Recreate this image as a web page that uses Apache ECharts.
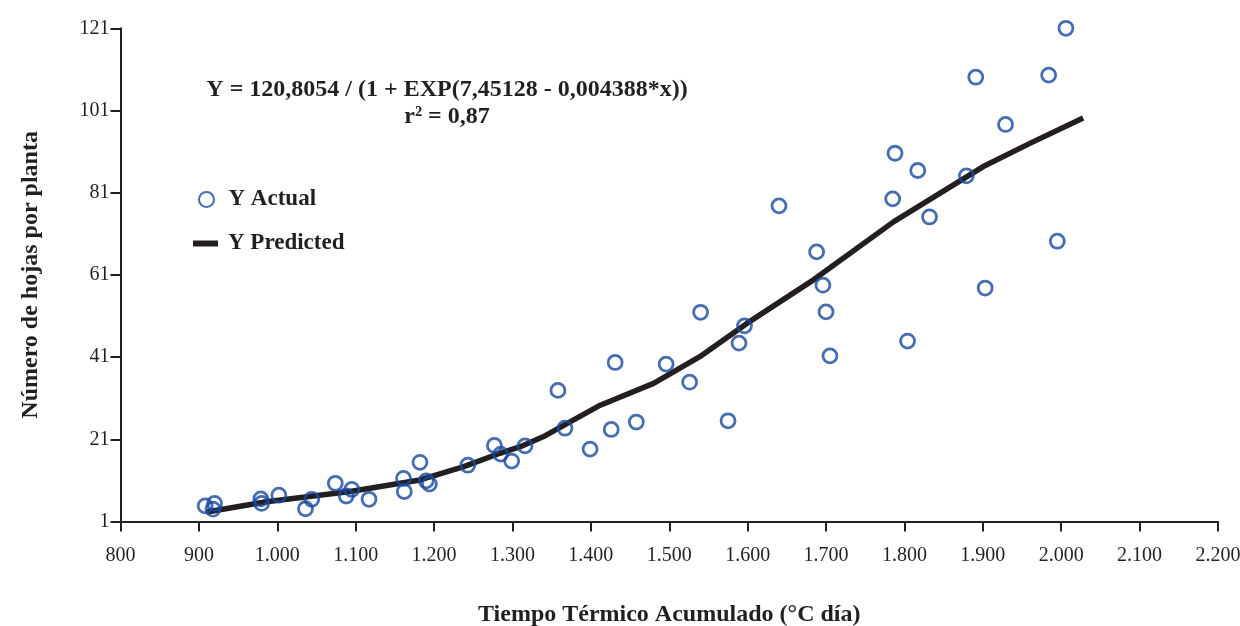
<!DOCTYPE html>
<html>
<head>
<meta charset="utf-8">
<script src="https://cdn.jsdelivr.net/npm/echarts@6/dist/echarts.min.js"></script>
<style>
html,body{margin:0;padding:0;background:#fff;}
#chart{width:1240px;height:626px;}
</style>
</head>
<body>
<div id="chart"></div>
<script>
// Observed data (Tiempo Térmico Acumulado, Número de hojas por planta)
var actualX = [908, 920, 918, 979, 980, 1002, 1036, 1044, 1074, 1088, 1095, 1117,
  1161, 1162, 1182, 1190, 1194, 1243, 1277, 1285, 1299, 1316, 1358, 1367, 1399,
  1426, 1431, 1458, 1496, 1526, 1540, 1575, 1589, 1596, 1640, 1688, 1696, 1700,
  1705, 1785, 1788, 1804, 1817, 1832, 1879, 1891, 1903, 1929, 1984, 1995, 2006];
var actualY = [4.8, 5.4, 4.0, 6.5, 5.4, 7.4, 4.1, 6.4, 10.3, 7.2, 8.8, 6.4,
  11.5, 8.3, 15.4, 10.9, 10.1, 14.7, 19.5, 17.4, 15.7, 19.4, 32.9, 23.7, 18.6,
  23.4, 39.7, 25.2, 39.3, 34.9, 51.9, 25.5, 44.4, 48.6, 77.8, 66.6, 58.5, 52.0,
  41.3, 79.5, 90.6, 44.9, 86.4, 75.1, 85.1, 109.1, 57.8, 97.6, 109.6, 69.2, 121];

// Predicted curve
var predX = [910, 986, 1093, 1182, 1237, 1284, 1310, 1339, 1412, 1480, 1539, 1599, 1684, 1786, 1900, 1960, 2028];
var predY = [3.3, 5.8, 8.3, 11.1, 14.3, 17.6, 19.2, 21.6, 29.3, 34.6, 41.1, 49.2, 59.8, 73.9, 87.3, 93.0, 99.2];

var xTickLabels = ['800', '900', '1.000', '1.100', '1.200', '1.300', '1.400', '1.500',
  '1.600', '1.700', '1.800', '1.900', '2.000', '2.100', '2.200'];
var yTickLabels = ['1', '21', '41', '61', '81', '101', '121'];

var seriesNames = ['Y Actual', 'Y Predicted'];
var titleX = 'Tiempo Térmico Acumulado (°C día)';
var titleY = 'Número de hojas por planta';
var equationLines = ['Y = 120,8054 / (1 + EXP(7,45128 - 0,004388*x))', 'r² = 0,87'];

var FONT = '"Liberation Serif", "Times New Roman", serif';
var INK = '#231f20';
var BLUE = '#18489f';

function zip(a, b) { return a.map(function (v, i) { return [v, b[i]]; }); }

var chart = echarts.init(document.getElementById('chart'), null, { renderer: 'canvas' });
chart.setOption({
  animation: false,
  backgroundColor: '#ffffff',
  grid: { left: 120.5, right: 22, top: 28.3, bottom: 104.5, containLabel: false, outerBoundsMode: 'none' },
  xAxis: {
    type: 'value', min: 800, max: 2200, interval: 100,
    name: titleX, nameLocation: 'middle', nameGap: 81,
    nameTextStyle: { fontFamily: FONT, fontWeight: 'bold', fontSize: 24, color: INK },
    axisLine: { show: true, onZero: false, lineStyle: { color: INK, width: 2 } },
    axisTick: { show: true, inside: false, length: 10, lineStyle: { color: INK, width: 2 } },
    splitLine: { show: false },
    axisLabel: {
      margin: 24, fontFamily: FONT, fontSize: 20, color: INK,
      formatter: function (v) { return xTickLabels[Math.round((v - 800) / 100)]; }
    }
  },
  yAxis: {
    type: 'value', min: 1, max: 121, interval: 20,
    name: titleY, nameLocation: 'middle', nameGap: 78,
    nameTextStyle: { fontFamily: FONT, fontWeight: 'bold', fontSize: 24, color: INK },
    axisLine: { show: true, onZero: false, lineStyle: { color: INK, width: 2 } },
    axisTick: { show: true, inside: false, length: 10, lineStyle: { color: INK, width: 2 } },
    splitLine: { show: false },
    axisLabel: {
      margin: 11, fontFamily: FONT, fontSize: 20, color: INK,
      formatter: function (v) { return yTickLabels[Math.round((v - 1) / 20)]; }
    }
  },
  legend: [
    {
      data: [{ name: seriesNames[0], icon: 'circle' }],
      left: 198, top: 188, itemWidth: 30, itemHeight: 15, padding: 0,
      textStyle: { fontFamily: FONT, fontWeight: 'bold', fontSize: 23, color: INK, padding: [0, 0, 0, 2] }
    },
    {
      data: [{ name: seriesNames[1], icon: 'rect' }],
      left: 193, top: 232, itemWidth: 25, itemHeight: 6, padding: 0,
      itemStyle: { color: INK, borderWidth: 0 },
      textStyle: { fontFamily: FONT, fontWeight: 'bold', fontSize: 23, color: INK, padding: [0, 0, 0, 5] }
    }
  ],
  graphic: [
    {
      type: 'text', x: 447, y: 76, z: 10,
      style: {
        text: equationLines.join('\n'), align: 'center', verticalAlign: 'top',
        font: 'bold 24px ' + FONT, fill: INK, lineHeight: 27
      }
    }
  ],
  series: [
    {
      name: seriesNames[1], type: 'line', data: zip(predX, predY),
      symbol: 'none', smooth: false, z: 2,
      lineStyle: { color: INK, width: 5.5, cap: 'butt', join: 'round' },
      itemStyle: { color: INK }
    },
    {
      name: seriesNames[0], type: 'scatter', data: zip(actualX, actualY),
      symbol: 'circle', symbolSize: 14, z: 3,
      itemStyle: { color: 'rgba(255,255,255,0)', borderColor: BLUE, borderWidth: 2.8 }
    }
  ]
});
</script>
</body>
</html>
